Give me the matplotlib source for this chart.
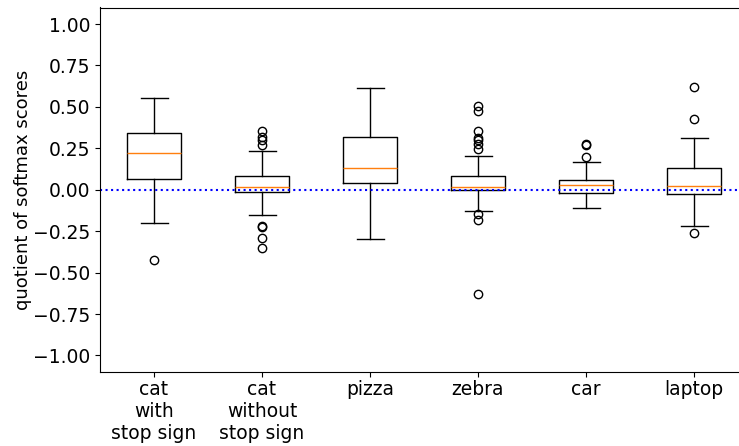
import matplotlib
matplotlib.use("Agg")
import matplotlib.pyplot as plt

# classes shown on the x axis
labels = ["cat\nwith\nstop sign", "cat\nwithout\nstop sign", "pizza", "zebra", "car", "laptop"]

# box statistics
whislo = [-0.198, -0.152, -0.297, -0.128, -0.110, -0.219]
q1 = [0.063, -0.015, 0.041, -0.003, -0.017, -0.023]
med = [0.221, 0.017, 0.132, 0.019, 0.027, 0.021]
q3 = [0.340, 0.082, 0.319, 0.082, 0.059, 0.132]
whishi = [0.555, 0.233, 0.613, 0.204, 0.166, 0.315]

# outliers (fliers)
fliers_cat_with = [-0.422]
fliers_cat_without = [0.353, 0.319, 0.299, 0.273, -0.219, -0.225, -0.293, -0.352]
fliers_pizza = []
fliers_zebra = [0.507, 0.476, 0.353, 0.315, 0.299, 0.279, 0.245, -0.148, -0.180, -0.631]
fliers_car = [0.277, 0.272, 0.196]
fliers_laptop = [0.619, 0.430, -0.263]
fliers = [fliers_cat_with, fliers_cat_without, fliers_pizza, fliers_zebra, fliers_car, fliers_laptop]

stats = []
for i in range(len(labels)):
    stats.append({"label": labels[i], "whislo": whislo[i], "q1": q1[i], "med": med[i],
                  "q3": q3[i], "whishi": whishi[i], "fliers": fliers[i]})

fig = plt.figure(figsize=(7.39, 4.46), dpi=100)
ax = fig.add_axes([100 / 739, 1 - 372 / 446, 648 / 739, (372 - 7.5) / 446])

ax.bxp(stats, showfliers=True)
ax.axhline(0, color="blue", linestyle=":", linewidth=1.5)

ax.set_xlim(0.5, 6.5)
ax.set_ylim(-1.1, 1.1)
ax.set_yticks([-1.0, -0.75, -0.5, -0.25, 0.0, 0.25, 0.5, 0.75, 1.0])
ax.set_ylabel("quotient of softmax scores", fontsize=13, labelpad=1)
ax.tick_params(labelsize=13.5)
ax.tick_params(axis="x", pad=2)

fig.savefig("out.png", dpi=100)
